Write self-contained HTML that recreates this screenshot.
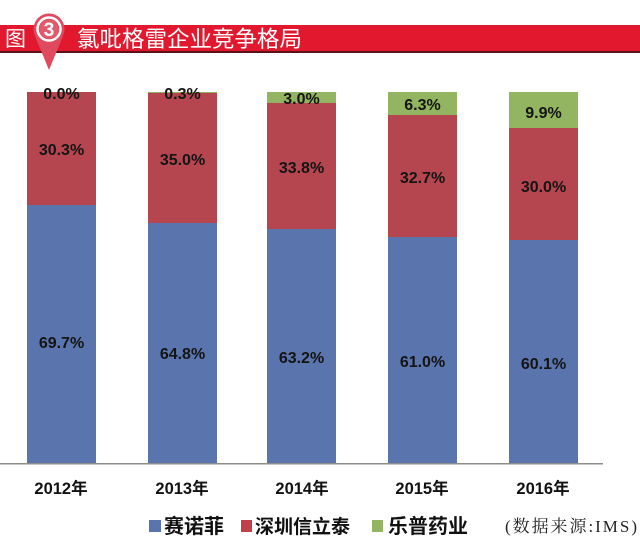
<!DOCTYPE html>
<html><head><meta charset="utf-8"><style>
html,body{margin:0;padding:0;background:#fff;}
svg{display:block;}
</style></head><body>
<svg width="640" height="546" viewBox="0 0 640 546" xmlns="http://www.w3.org/2000/svg">
<rect x="0" y="0" width="640" height="546" fill="#ffffff"/>
<!-- banner -->
<rect x="0" y="25" width="640" height="27" fill="#e2192e"/>
<rect x="0" y="51" width="640" height="2" fill="#5a1218"/>
<text x="5" y="46" font-family="'Liberation Sans','Noto Sans CJK SC',sans-serif" font-size="21" fill="#ffffff">图</text>
<!-- pin -->
<path d="M35,36 L49,70 L63,36 Z" fill="#e04a5f"/>
<circle cx="49" cy="29" r="15.5" fill="#e04a5f"/>
<circle cx="49" cy="29" r="11.5" fill="none" stroke="#ffffff" stroke-width="2.5"/>
<circle cx="49" cy="29" r="9.5" fill="#e35a6c"/>
<text x="49" y="36" text-anchor="middle" font-family="'Liberation Sans',sans-serif" font-weight="bold" font-size="19" fill="#ffffff">3</text>
<text x="77" y="47" font-family="'Liberation Sans','Noto Sans CJK SC',sans-serif" font-size="22.5" fill="#ffffff">氯吡格雷企业竞争格局</text>

<!-- bars -->
<g>
<rect x="27" y="205" width="69" height="259" fill="#5a75ad"/>
<rect x="27" y="92" width="69" height="113" fill="#b5464f"/>

<rect x="148" y="223" width="69" height="241" fill="#5a75ad"/>
<rect x="148" y="93" width="69" height="130" fill="#b5464f"/>
<rect x="148" y="92" width="69" height="1" fill="#93b561"/>

<rect x="267" y="229" width="69" height="235" fill="#5a75ad"/>
<rect x="267" y="103" width="69" height="126" fill="#b5464f"/>
<rect x="267" y="92" width="69" height="11" fill="#93b561"/>

<rect x="388" y="237" width="69" height="227" fill="#5a75ad"/>
<rect x="388" y="115" width="69" height="122" fill="#b5464f"/>
<rect x="388" y="92" width="69" height="23" fill="#93b561"/>

<rect x="509" y="240" width="69" height="224" fill="#5a75ad"/>
<rect x="509" y="128" width="69" height="112" fill="#b5464f"/>
<rect x="509" y="92" width="69" height="36" fill="#93b561"/>
</g>
<!-- axis -->
<rect x="0" y="463" width="603" height="1.5" fill="#8c8c8c"/>

<!-- labels -->
<g font-family="'Liberation Sans',sans-serif" font-weight="bold" font-size="16" fill="#141414" text-anchor="middle">
<text x="61.5" y="99">0.0%</text>
<text x="61.5" y="155">30.3%</text>
<text x="61.5" y="348">69.7%</text>

<text x="182.5" y="99">0.3%</text>
<text x="182.5" y="165">35.0%</text>
<text x="182.5" y="359">64.8%</text>

<text x="301.5" y="104">3.0%</text>
<text x="301.5" y="173">33.8%</text>
<text x="301.5" y="363">63.2%</text>

<text x="422.5" y="110">6.3%</text>
<text x="422.5" y="183">32.7%</text>
<text x="422.5" y="367">61.0%</text>

<text x="543.5" y="118">9.9%</text>
<text x="543.5" y="192">30.0%</text>
<text x="543.5" y="369">60.1%</text>
</g>

<!-- year labels -->
<g font-family="'Liberation Sans','Noto Sans CJK SC',sans-serif" font-weight="bold" font-size="16.5" fill="#111111" text-anchor="middle">
<text x="61" y="494">2012年</text>
<text x="182" y="494">2013年</text>
<text x="302" y="494">2014年</text>
<text x="422" y="494">2015年</text>
<text x="543" y="494">2016年</text>
</g>

<!-- legend -->
<rect x="149" y="520" width="12" height="12" fill="#5a75ad"/>
<text x="164" y="533" font-family="'Liberation Sans','Noto Sans CJK SC',sans-serif" font-weight="bold" font-size="20" fill="#111111">赛诺菲</text>
<rect x="241" y="520" width="11" height="12" fill="#c0404a"/>
<text x="255" y="533" font-family="'Liberation Sans','Noto Sans CJK SC',sans-serif" font-weight="bold" font-size="19" fill="#111111">深圳信立泰</text>
<rect x="372" y="520" width="11" height="12" fill="#93b561"/>
<text x="388" y="533" font-family="'Liberation Sans','Noto Sans CJK SC',sans-serif" font-weight="bold" font-size="20" fill="#111111">乐普药业</text>
<text x="505" y="532" font-family="'Liberation Serif','Noto Serif CJK SC',serif" font-size="17" fill="#222222" textLength="132" lengthAdjust="spacing">(数据来源:IMS)</text>
</svg>
</body></html>
